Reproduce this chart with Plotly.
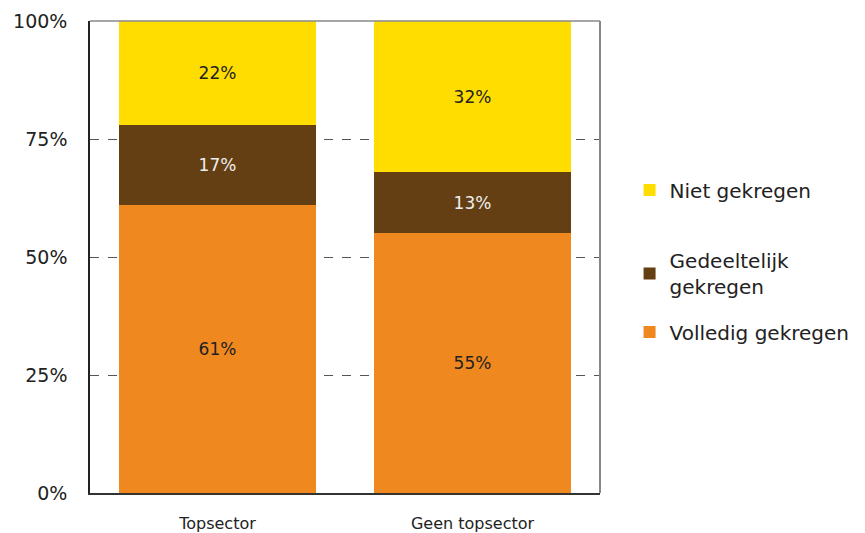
import plotly.graph_objects as go

categories = ["Topsector", "Geen topsector"]
volledig = [61, 55]
gedeeltelijk = [17, 13]
niet = [22, 32]
series_names = ["Volledig gekregen", "Gedeeltelijk<br>gekregen", "Niet gekregen"]
colors = ["#EF881F", "#653F14", "#FFDD00"]
text_colors = ["#222222", "#EEEEEE", "#222222"]
legend_ids = ["legend3", "legend2", "legend"]

font = "DejaVu Sans, Verdana, sans-serif"
fig = go.Figure()
for vals, name, col, tc, lg in zip([volledig, gedeeltelijk, niet], series_names, colors, text_colors, legend_ids):
    fig.add_trace(go.Bar(
        x=categories, y=vals, name=name, marker=dict(color=col, line=dict(width=0)),
        text=[f"{v}%" for v in vals], textposition="inside", insidetextanchor="middle",
        textfont=dict(color=tc, size=17, family=font), legend=lg,
    ))

leg_common = dict(font=dict(size=20, family=font, color="#222222"), bgcolor="rgba(0,0,0,0)",
                  xanchor="left", yanchor="middle", itemwidth=30)
fig.update_layout(
    barmode="stack", bargap=0.23, showlegend=True,
    width=857, height=525,
    margin=dict(l=82, r=265, t=13, b=40, autoexpand=False),
    plot_bgcolor="white", paper_bgcolor="white",
    font=dict(family=font, color="#222222"),
    legend=dict(x=1.058, y=0.642, **leg_common),
    legend2=dict(x=1.058, y=0.465, **leg_common),
    legend3=dict(x=1.058, y=0.341, **leg_common),
    yaxis=dict(range=[0, 100], tickvals=[0, 25, 50, 75, 100], ticktext=["0%", "25%", "50%", "75%", "100%"],
               showgrid=True, gridcolor="#555555", griddash="dash", gridwidth=1,
               showline=True, linecolor="#222222", linewidth=1.5, zeroline=False,
               ticklabeloverflow="allow",
               tickfont=dict(size=19, family=font, color="#222222"), ticklabelstandoff=17),
    xaxis=dict(showline=True, linecolor="#333333", linewidth=1.5, ticklabeloverflow="allow",
               tickfont=dict(size=16, family=font, color="#222222"), ticklabelstandoff=15),
    shapes=[
        dict(type="line", xref="paper", yref="paper", x0=1, x1=1, y0=0, y1=1, line=dict(color="#888888", width=2)),
        dict(type="line", xref="paper", yref="paper", x0=0, x1=1, y0=1, y1=1, line=dict(color="#888888", width=1.5)),
    ],
)
fig.write_html("out.html")
